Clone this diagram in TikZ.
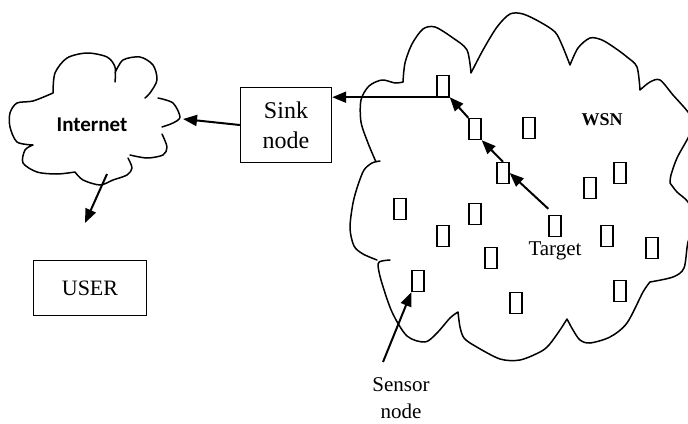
\documentclass[tikz,border=0pt]{standalone}
\usepackage{fontspec}
\setmainfont{Liberation Serif}
\newfontfamily\inetfont{Carlito}
\usepackage{tikz}
\usetikzlibrary{arrows.meta,positioning}
\tikzstyle{sensor} = [rectangle, draw, line width=1.4pt, minimum width=12pt, minimum height=21pt, inner sep=0pt]
\tikzstyle{box} = [rectangle, draw, line width=1.4pt, align=center, inner sep=0pt]
\tikzstyle{arrow} = [line width=2pt,-{Triangle[length=14pt,width=11pt]}]
\tikzstyle{cloudline} = [line width=1.5pt, line join=round, line cap=round]
\tikzstyle{lbl} = [font=\fontsize{21}{27}\selectfont, align=center, inner sep=0pt]

\begin{document}
\begin{tikzpicture}[x=1pt,y=-1pt]
\clip (0,0) rectangle (688,423);

% internet cloud
\draw[cloudline]
  plot[smooth] coordinates {(53,93) (55,73) (67,58) (87,53) (107,57) (115,67) (115,82)}
  plot[smooth] coordinates {(115,73) (123,60) (140,57) (153,65) (157,80) (150,93) (145,98)}
  plot[smooth] coordinates {(158,98) (173,103) (180,117) (173,123) (162,127)}
  plot[smooth] coordinates {(162,134) (167,147) (163,155) (147,158) (130,155)}
  plot[smooth] coordinates {(128,158) (132,168) (127,175) (113,180) (100,185) (83,180) (75,172)}
  plot[smooth] coordinates {(75,172) (57,174) (37,172) (23,163) (25,150) (33,145)}
  plot[smooth] coordinates {(33,145) (17,142) (10,127) (10,113) (17,103) (33,101) (53,93)};
\node[font=\inetfont\bfseries\fontsize{21}{25}\selectfont, inner sep=0pt] (inet) at (92,125) {Internet};

% sensor field
\draw[cloudline]
  plot[smooth] coordinates {(376,162) (368,143) (361,122) (361,100) (369,86) (382,80) (395,83) (403,82)}
  plot[smooth] coordinates {(403,82) (405,63) (412,44) (423,29) (435,27) (453,38) (467,50) (471,73)}
  plot[smooth] coordinates {(471,73) (483,50) (497,27) (510,14) (523,14) (540,22) (555,32) (562,45) (570,65)}
  plot[smooth] coordinates {(570,65) (578,48) (590,38) (602,40) (615,48) (627,57) (637,67) (640,90)}
  plot[smooth] coordinates {(640,90) (650,82) (660,80) (673,95) (688,112) (694,124) (688,138) (677,158) (671,175) (670,183)}
  plot[smooth] coordinates {(670,183) (677,192) (688,202) (696,220) (688,242) (684,268) (673,277) (650,282)}
  plot[smooth] coordinates {(650,282) (643,292) (627,323) (610,337) (590,343) (580,340) (573,330) (567,319)}
  plot[smooth] coordinates {(567,319) (560,330) (549,345) (540,352) (520,360) (500,359) (475,346) (464,338) (460,327) (458,312)}
  plot[smooth] coordinates {(458,312) (450,318) (437,333) (425,342) (407,336) (392,312) (381,280) (378,264) (382,261) (390,260)}
  plot[smooth] coordinates {(377,260) (363,254) (354,246) (350,228) (353,203) (358,185) (364,170) (372,163) (380,161)};
\node[font=\bfseries\fontsize{18}{22}\selectfont, inner sep=0pt] (wsn) at (602,120) {WSN};

\foreach \n/\x/\y in {1/443/86, 2/475/129, 3/529/128, 4/503/173, 5/590/188, 6/620/173,
    7/400/209, 8/475/214, 9/443/236, 10/555/226, 11/491/258, 12/607/236,
    13/652/248, 14/418/281, 15/516/303, 16/620/291}
  \node[sensor] (s\n) at (\x,\y) {};

\node[lbl, below=4pt of s10] (target) {Target};
\node[lbl] (snlbl) at (401,398) {Sensor\\node};

% sink and user
\node[box, minimum width=91pt, minimum height=75pt, font=\fontsize{24}{30}\selectfont] (sink) at (286,125) {Sink\\node};
\node[box, minimum width=113pt, minimum height=55pt, font=\fontsize{22}{26}\selectfont] (user) at (90,288) {USER};

\coordinate (inetE) at (183,119);
\coordinate (inetS) at (107,174);
\coordinate (userTip) at (85,223);
\coordinate (snTail) at (383,362);

% route of a report
\draw[arrow] ([yshift=6pt]s10.north west) -- (s4.east);
\draw[arrow] (s4.north) -- (s2.south east);
\draw[arrow] (s2.north west) -- (s1.south east);
\draw[arrow] (s1.south east) -- (s1.south east -| sink.east);
\draw[arrow] (sink.west) -- (inetE);
\draw[arrow] (inetS) -- (userTip);
\draw[arrow] (snTail) -- (s14.south west);
\end{tikzpicture}
\end{document}
